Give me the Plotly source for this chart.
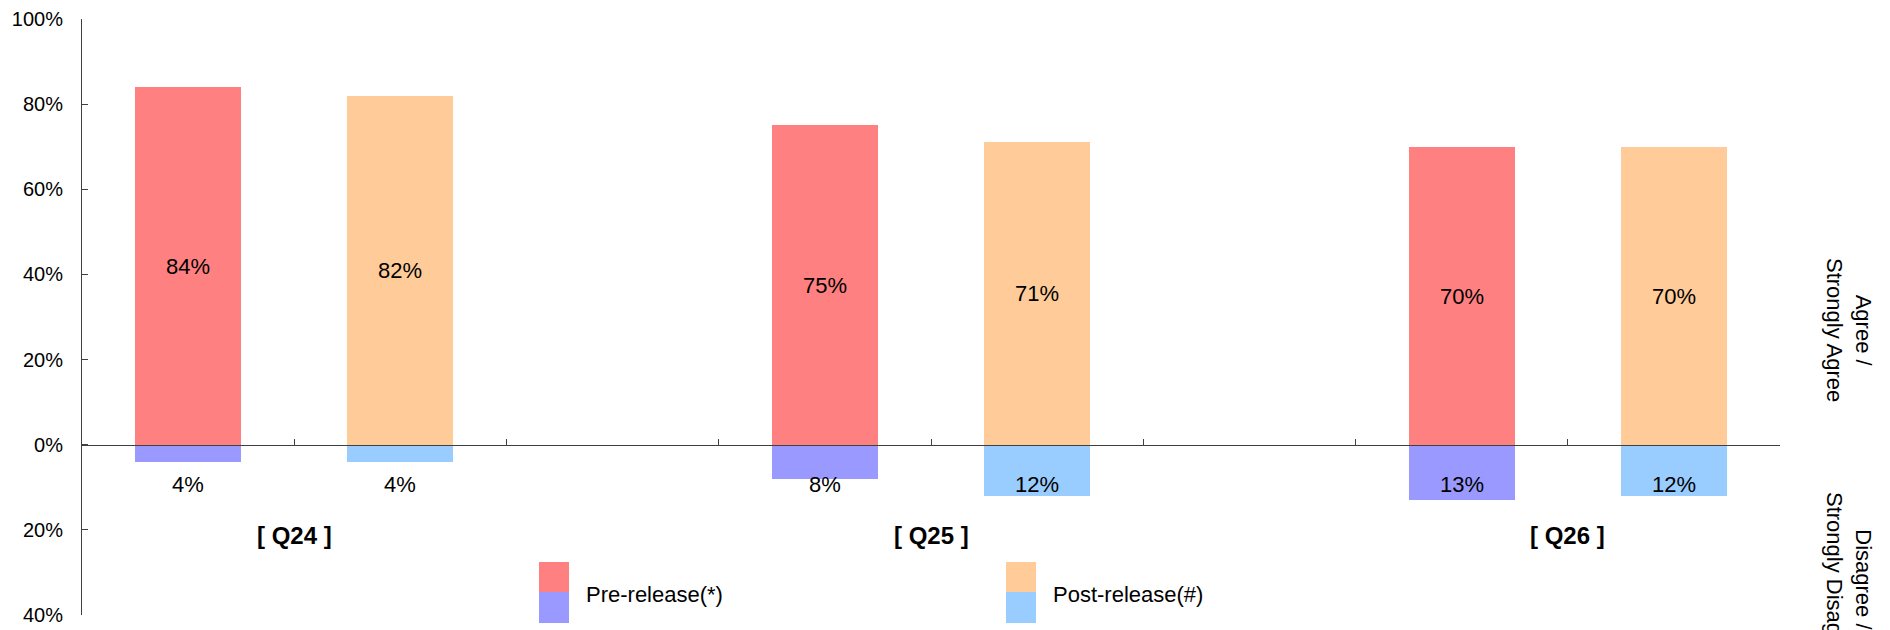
import plotly.graph_objects as go

# Survey questions and response shares (%)
questions = ["[ Q24 ]", "[ Q25 ]", "[ Q26 ]"]
pre_agree = [84, 75, 70]
post_agree = [82, 71, 70]
pre_disagree = [4, 8, 13]
post_disagree = [4, 12, 12]
y_ticks = [-40, -20, 0, 20, 40, 60, 80, 100]

PRE_AGREE_C = "#FF8080"
PRE_DIS_C = "#9999FF"
POST_AGREE_C = "#FFCC99"
POST_DIS_C = "#99CCFF"
FONT = "Arial, Liberation Sans, sans-serif"
TICK_FS = 20
VAL_FS = 22
CAT_FS = 24
TXT_FS = 22

# Each question occupies three slots: pre, post, gap
pre_x = [3 * i + 0.5 for i in range(len(questions))]
post_x = [3 * i + 1.5 for i in range(len(questions))]
group_x = [3 * i + 1.0 for i in range(len(questions))]

fig = go.Figure()
fig.add_bar(x=pre_x, y=pre_agree, width=0.5, marker=dict(color=PRE_AGREE_C, line=dict(width=0)),
            text=[f"{v}%" for v in pre_agree], textposition="inside", insidetextanchor="middle",
            textfont=dict(family=FONT, size=VAL_FS, color="black"), name="Pre-release(*)")
fig.add_bar(x=post_x, y=post_agree, width=0.5, marker=dict(color=POST_AGREE_C, line=dict(width=0)),
            text=[f"{v}%" for v in post_agree], textposition="inside", insidetextanchor="middle",
            textfont=dict(family=FONT, size=VAL_FS, color="black"), name="Post-release(#)")
fig.add_bar(x=pre_x, y=[-v for v in pre_disagree], width=0.5,
            marker=dict(color=PRE_DIS_C, line=dict(width=0)), name="Pre-release disagree")
fig.add_bar(x=post_x, y=[-v for v in post_disagree], width=0.5,
            marker=dict(color=POST_DIS_C, line=dict(width=0)), name="Post-release disagree")

# Disagree labels sit in a row just below the zero line
label_row = -9.3
for xs, vals in ((pre_x, pre_disagree), (post_x, post_disagree)):
    for x, v in zip(xs, vals):
        fig.add_annotation(x=x, y=label_row, text=f"{v}%", showarrow=False,
                           xanchor="center", yanchor="middle",
                           font=dict(family=FONT, size=VAL_FS, color="black"))

# Question labels centred under each pair
for x, q in zip(group_x, questions):
    fig.add_annotation(x=x, y=-21.4, text=f"<b>{q}</b>", showarrow=False,
                       xanchor="center", yanchor="middle",
                       font=dict(family=FONT, size=CAT_FS, color="black"))

# Pixel -> paper helpers for the plot area
L, T, W, H = 82, 19, 1698, 596


def px(x):
    return (x - L) / W


def py(y):
    return (T + H - y) / H


# Side titles
fig.add_annotation(xref="paper", yref="paper", x=px(1849), y=py(330), text="Agree /<br>Strongly Agree",
                   textangle=90, showarrow=False, xanchor="center", yanchor="middle",
                   font=dict(family=FONT, size=TXT_FS, color="black"))
fig.add_annotation(xref="paper", yref="paper", x=px(1849), y=py(579), text="Disagree /<br>Strongly Disagree",
                   textangle=90, showarrow=False, xanchor="center", yanchor="middle",
                   font=dict(family=FONT, size=TXT_FS, color="black"))

# Two-tone legend keys
for x0, top_c, bot_c, label in ((539, PRE_AGREE_C, PRE_DIS_C, "Pre-release(*)"),
                                (1006, POST_AGREE_C, POST_DIS_C, "Post-release(#)")):
    fig.add_shape(type="rect", xref="paper", yref="paper", x0=px(x0), x1=px(x0 + 30),
                  y0=py(592), y1=py(562), fillcolor=top_c, line=dict(width=0))
    fig.add_shape(type="rect", xref="paper", yref="paper", x0=px(x0), x1=px(x0 + 30),
                  y0=py(623), y1=py(592), fillcolor=bot_c, line=dict(width=0))
    fig.add_annotation(xref="paper", yref="paper", x=px(x0 + 45), y=py(594), xanchor="left",
                       yanchor="middle", text=label, showarrow=False,
                       font=dict(family=FONT, size=TXT_FS, color="black"))

fig.update_layout(
    width=1890, height=630,
    margin=dict(l=L, r=1890 - L - W, t=T, b=630 - T - H, autoexpand=False),
    paper_bgcolor="white", plot_bgcolor="white",
    barmode="overlay", showlegend=False, bargap=0,
    font=dict(family=FONT, size=TICK_FS, color="black"),
    xaxis=dict(range=[0, 8], anchor="free", position=40 / 140, showline=True, linecolor="#404040",
               linewidth=1, ticks="inside", ticklen=6, tickcolor="#404040",
               tickvals=list(range(1, 9)), showticklabels=False, showgrid=False, zeroline=False),
    yaxis=dict(range=[-40, 100], showline=True, linecolor="#404040", linewidth=1,
               ticks="inside", ticklen=6, tickcolor="#404040",
               tickvals=y_ticks, ticktext=[f"{abs(v)}%" for v in y_ticks],
               showgrid=False, zeroline=False, ticklabelstandoff=14,
               tickfont=dict(family=FONT, size=TICK_FS, color="black")),
)

fig.write_html("out.html")
